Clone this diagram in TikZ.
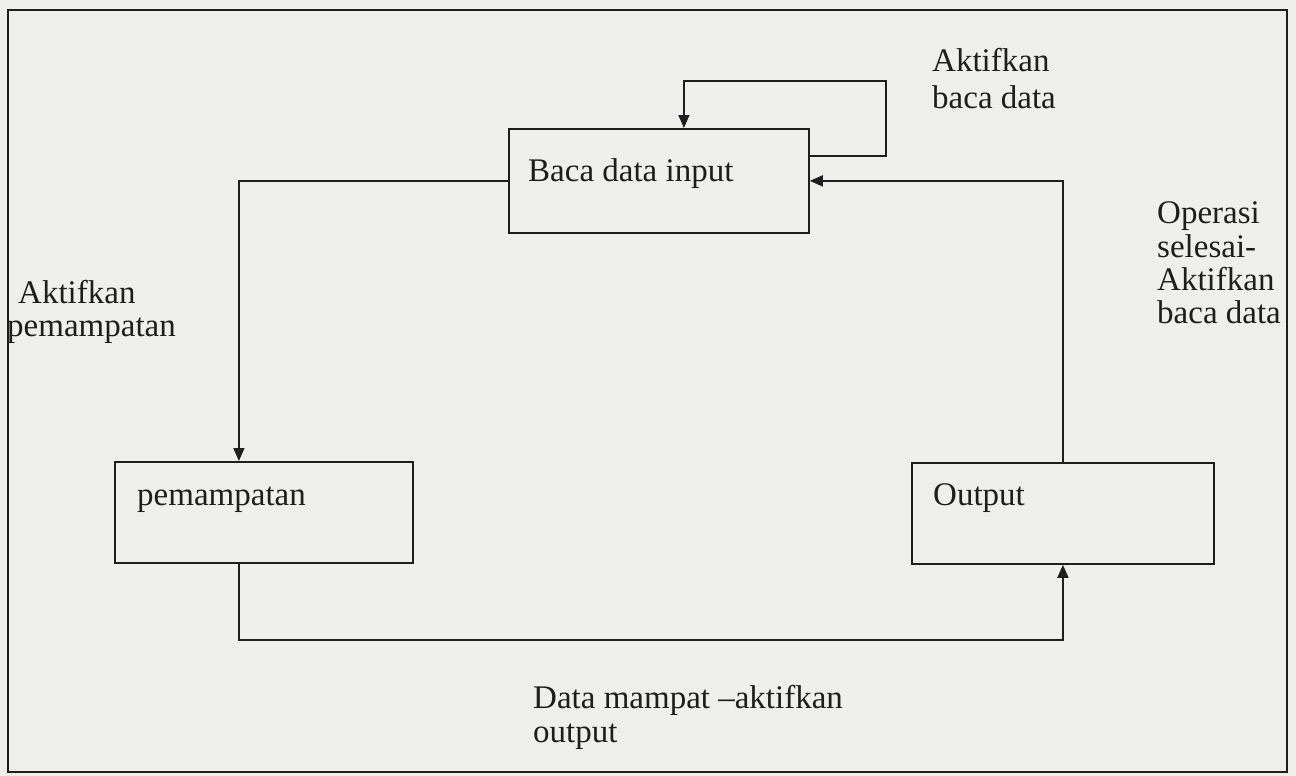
\documentclass[tikz,border=0pt]{standalone}
\usepackage{fontspec}
\setmainfont{Liberation Serif}
\usetikzlibrary{arrows.meta,calc}
\definecolor{paper}{RGB}{239,239,237}
\definecolor{ink}{RGB}{30,30,30}
\begin{document}
\begin{tikzpicture}[x=1pt,y=-1pt,
  every node/.style={font=\fontsize{33}{34}\selectfont, text=ink},
  box/.style={draw=ink, line width=1.8pt, rectangle, inner sep=0pt, anchor=north west},
  lbl/.style={inner sep=0pt, anchor=base west, align=left},
  conn/.style={draw=ink, line width=1.6pt},
  arr/.style={conn, -{Triangle[length=13pt,width=11pt]}}]
  \fill[paper] (0,0) rectangle (1296,776);
  \useasboundingbox (0,0) rectangle (1296,776);
  \draw[ink, line width=2.6pt] (8,10) rectangle (1287,772);
  % boxes
  \node[box, minimum width=300pt, minimum height=104pt] (baca) at (508,128) {};
  \node[box, minimum width=298pt, minimum height=101pt] (pem) at (114,461) {};
  \node[box, minimum width=302pt, minimum height=101pt] (out) at (911,462) {};
  % box texts
  \node[lbl] (tbaca) at (528,181) {Baca data input};
  \node[lbl] (tpem) at (137,505) {pemampatan};
  \node[lbl] (tout) at (933,505) {Output};
  % labels
  \node[lbl] (l1a) at (932,72) {Aktifkan};
  \node[lbl] (l1b) at (932,108) {baca data};
  \node[lbl] (l2a) at (18,303) {Aktifkan};
  \node[lbl] (l2b) at (7,336) {pemampatan};
  \node[lbl] (l3a) at (1157,223) {Operasi};
  \node[lbl] (l3b) at (1157,257) {selesai-};
  \node[lbl] (l3c) at (1157,290) {Aktifkan};
  \node[lbl] (l3d) at (1157,323) {baca data};
  \node[lbl] (l4a) at (533,708) {Data mampat –aktifkan};
  \node[lbl] (l4b) at (533,742) {output};
  % connectors
  \draw[arr] ([yshift=25pt]baca.east) -- ++(76,0) -- ++(0,-75) -| ([xshift=25pt]baca.north);
  \draw[arr] (baca.west) -| ([xshift=-25pt]pem.north);
  \draw[arr] ([xshift=-25pt]pem.south) -- ++(0,76) -| (out.south);
  \draw[arr] (out.north) |- (baca.east);
\end{tikzpicture}
\end{document}
